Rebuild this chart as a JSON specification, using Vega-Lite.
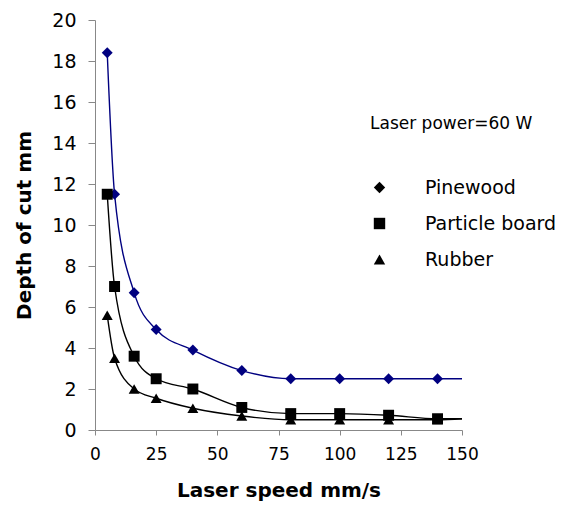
{
  "$schema": "https://vega.github.io/schema/vega-lite/v6.json",
  "autosize": "none",
  "width": 367,
  "height": 410,
  "padding": {"left": 95, "top": 20, "right": 100, "bottom": 80},
  "background": "white",
  "config": {
    "view": {"stroke": null},
    "font": "DejaVu Sans",
    "axis": {"grid": false, "domainColor": "#888888", "tickColor": "#888888", "labelColor": "black", "titleColor": "black", "labelFont": "DejaVu Sans", "titleFont": "DejaVu Sans", "titleFontWeight": "bold", "titleFontSize": 20}
  },
  "data": {
    "values": [
      {"speed": 5, "depth": 18.4, "material": "Pinewood"},
      {"speed": 8, "depth": 11.5, "material": "Pinewood"},
      {"speed": 16, "depth": 6.7, "material": "Pinewood"},
      {"speed": 25, "depth": 4.9, "material": "Pinewood"},
      {"speed": 40, "depth": 3.9, "material": "Pinewood"},
      {"speed": 60, "depth": 2.9, "material": "Pinewood"},
      {"speed": 80, "depth": 2.5, "material": "Pinewood"},
      {"speed": 100, "depth": 2.5, "material": "Pinewood"},
      {"speed": 120, "depth": 2.5, "material": "Pinewood"},
      {"speed": 140, "depth": 2.5, "material": "Pinewood"},
      {"speed": 150, "depth": 2.5, "material": "Pinewood"},
      {"speed": 5, "depth": 11.5, "material": "Particle board"},
      {"speed": 8, "depth": 7.0, "material": "Particle board"},
      {"speed": 16, "depth": 3.6, "material": "Particle board"},
      {"speed": 25, "depth": 2.5, "material": "Particle board"},
      {"speed": 40, "depth": 2.0, "material": "Particle board"},
      {"speed": 60, "depth": 1.1, "material": "Particle board"},
      {"speed": 80, "depth": 0.8, "material": "Particle board"},
      {"speed": 100, "depth": 0.8, "material": "Particle board"},
      {"speed": 120, "depth": 0.72, "material": "Particle board"},
      {"speed": 140, "depth": 0.55, "material": "Particle board"},
      {"speed": 150, "depth": 0.55, "material": "Particle board"},
      {"speed": 5, "depth": 5.6, "material": "Rubber"},
      {"speed": 8, "depth": 3.5, "material": "Rubber"},
      {"speed": 16, "depth": 2.0, "material": "Rubber"},
      {"speed": 25, "depth": 1.55, "material": "Rubber"},
      {"speed": 40, "depth": 1.06, "material": "Rubber"},
      {"speed": 60, "depth": 0.68, "material": "Rubber"},
      {"speed": 80, "depth": 0.5, "material": "Rubber"},
      {"speed": 100, "depth": 0.5, "material": "Rubber"},
      {"speed": 120, "depth": 0.5, "material": "Rubber"},
      {"speed": 140, "depth": 0.5, "material": "Rubber"},
      {"speed": 150, "depth": 0.55, "material": "Rubber"}
    ]
  },
  "encoding": {
    "x": {
      "field": "speed", "type": "quantitative",
      "scale": {"domain": [0, 150], "nice": false},
      "axis": {"title": "Laser speed mm/s", "values": [0, 25, 50, 75, 100, 125, 150], "labelFontSize": 17, "tickSize": 5, "labelPadding": 11, "titlePadding": 18, "labelFlush": false}
    },
    "y": {
      "field": "depth", "type": "quantitative",
      "scale": {"domain": [0, 20], "nice": false},
      "axis": {"title": "Depth of cut mm", "values": [0, 2, 4, 6, 8, 10, 12, 14, 16, 18, 20], "labelFontSize": 19, "tickSize": 7, "labelPadding": 12, "titlePadding": 17, "labelFlush": false}
    },
    "color": {
      "condition": {"test": "datum.material === 'Pinewood'", "value": "#000080"},
      "value": "#000000"
    }
  },
  "layer": [
    {
      "mark": {"type": "line", "interpolate": "monotone", "strokeWidth": 1.4},
      "encoding": {"detail": {"field": "material", "type": "nominal"}}
    },
    {
      "transform": [{"filter": "datum.speed < 150"}],
      "mark": {"type": "point", "filled": true, "opacity": 1, "size": 120},
      "encoding": {
        "shape": {
          "field": "material", "type": "nominal",
          "scale": {"domain": ["Pinewood", "Particle board", "Rubber"], "range": ["diamond", "square", "triangle-up"]},
          "legend": {
            "orient": "none", "legendX": 275, "legendY": 96,
            "title": "Laser power=60 W", "titleFontSize": 17, "titleFontWeight": "normal", "titleFont": "DejaVu Sans", "titleColor": "black", "titlePadding": 45,
            "labelFontSize": 19, "labelFont": "DejaVu Sans", "labelColor": "black", "labelOffset": 36,
            "symbolSize": 130, "rowPadding": 16, "padding": 0, "symbolStrokeWidth": 1.3, "symbolOpacity": 1
          }
        }
      }
    }
  ]
}
